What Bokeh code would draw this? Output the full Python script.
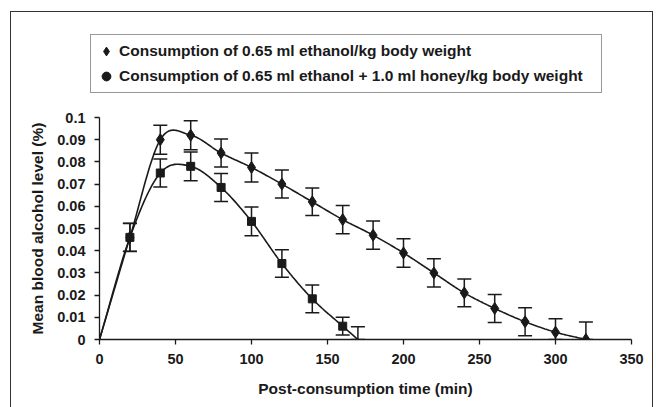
import numpy as np
from bokeh.plotting import figure
from bokeh.layouts import column
from bokeh.models import (ColumnDataSource, Whisker, TeeHead, FixedTicker,
                          Legend, LegendItem)
from bokeh.embed import file_html
from bokeh.resources import INLINE

# ---- data ----
time_ethanol = [0, 20, 40, 60, 80, 100, 120, 140, 160, 180, 200, 220, 240, 260, 280, 300, 320]
level_ethanol = [0.0, 0.046, 0.090, 0.092, 0.084, 0.0775, 0.070, 0.062, 0.054, 0.047,
                 0.039, 0.030, 0.021, 0.014, 0.008, 0.0033, 0.0]
err_ethanol = [0.0, 0.0064, 0.0065, 0.0065, 0.0063, 0.0065, 0.0063, 0.0062, 0.0064, 0.0064,
               0.0064, 0.0064, 0.0063, 0.0063, 0.0063, 0.006, 0.0079]

time_honey = [0, 20, 40, 60, 80, 100, 120, 140, 160, 170]
level_honey = [0.0, 0.046, 0.075, 0.078, 0.0685, 0.0532, 0.0342, 0.0183, 0.006, 0.0]
err_honey = [0.0, 0.0063, 0.0063, 0.0065, 0.0063, 0.0065, 0.0062, 0.0063, 0.004, 0.0057]

x_ticks = [0, 50, 100, 150, 200, 250, 300, 350]
y_ticks = [0, 0.01, 0.02, 0.03, 0.04, 0.05, 0.06, 0.07, 0.08, 0.09, 0.1]
y_tick_labels = ["0", "0.01", "0.02", "0.03", "0.04", "0.05", "0.06", "0.07", "0.08", "0.09", "0.1"]

label_ethanol = "Consumption of 0.65 ml ethanol/kg body weight"
label_honey = "Consumption of 0.65 ml ethanol + 1.0 ml honey/kg body weight"


def smooth(xs, ys, n=24):
    """Catmull-Rom style smoothing (like spreadsheet 'smoothed line')."""
    P = np.column_stack([xs, ys]).astype(float)
    m = len(P)
    T = np.zeros_like(P)
    for i in range(m):
        if i == 0:
            T[i] = (P[1] - P[0])
        elif i == m - 1:
            T[i] = (P[-1] - P[-2])
        else:
            T[i] = (P[i + 1] - P[i - 1]) / 2.0
    out = [P[0]]
    t = np.linspace(0, 1, n)[1:]
    for i in range(m - 1):
        p0 = P[i]; p3 = P[i + 1]
        c1 = p0 + T[i] / 3.0
        c2 = p3 - T[i + 1] / 3.0
        for tt in t:
            b = ((1 - tt) ** 3) * p0 + 3 * ((1 - tt) ** 2) * tt * c1 + 3 * (1 - tt) * tt ** 2 * c2 + tt ** 3 * p3
            out.append(b)
    out = np.array(out)
    return out[:, 0], out[:, 1]


FONT = "Liberation Sans"
INK = "#1a1a1a"
W = 641
BL, BR = 88, 21

# ---------- legend strip (top) ----------
top = figure(width=W, height=89, x_range=(400, 401), y_range=(1, 2),
             x_axis_type=None, y_axis_type=None,
             output_backend="svg", toolbar_location=None,
             min_border_left=0, min_border_right=0, min_border_top=0, min_border_bottom=0)
top.grid.visible = False
top.outline_line_color = None
top.border_fill_color = "white"
top.background_fill_color = "white"
leg_d = top.scatter(time_ethanol, level_ethanol, marker="diamond", size=11,
                    fill_color=INK, line_color=INK)
leg_c = top.scatter(time_honey, level_honey, marker="circle", size=9,
                    fill_color=INK, line_color=INK)
leg_d.visible = False
leg_c.visible = False
legend = Legend(items=[LegendItem(label=label_ethanol, renderers=[leg_d]),
                       LegendItem(label=label_honey, renderers=[leg_c])],
                location=(79, 8), orientation="vertical",
                label_text_font=FONT, label_text_font_style="bold", label_text_font_size="15.5px",
                label_text_color=INK, label_standoff=2, glyph_width=22, glyph_height=24,
                label_height=24, label_width=478, spacing=1, padding=4, margin=0,
                border_line_color="#333", border_line_width=1.2,
                background_fill_alpha=1.0, inactive_fill_alpha=0.0)
top.add_layout(legend, "center")

# ---------- chart ----------
p = figure(width=W, height=306, x_range=(0, 350), y_range=(0, 0.1),
           output_backend="svg", toolbar_location=None,
           min_border_left=BL, min_border_right=BR, min_border_top=16, min_border_bottom=68)
p.grid.visible = False
p.outline_line_color = None
p.background_fill_color = "white"
p.border_fill_color = "white"

ex, ey = smooth(time_ethanol, level_ethanol)
hx, hy = smooth(time_honey, level_honey)
p.line(ex, ey, line_color=INK, line_width=1.6)
p.line(hx, hy, line_color=INK, line_width=1.6)

for ts, lv, er in ((time_ethanol, level_ethanol, err_ethanol), (time_honey, level_honey, err_honey)):
    ts_a = np.array(ts[1:], dtype=float)
    lv_a = np.array(lv[1:]); er_a = np.array(er[1:])
    src = ColumnDataSource(dict(x=ts_a, upper=lv_a + er_a, lower=np.maximum(lv_a - er_a, 0)))
    w = Whisker(base="x", upper="upper", lower="lower", source=src, dimension="height",
                line_color=INK, line_width=1.5,
                upper_head=TeeHead(size=14, line_color=INK, line_width=1.5),
                lower_head=TeeHead(size=14, line_color=INK, line_width=1.5))
    p.add_layout(w)

p.scatter(time_ethanol[1:], level_ethanol[1:], marker="diamond", size=12,
          fill_color=INK, line_color=INK)
p.scatter(time_honey[1:-1], level_honey[1:-1], marker="square", size=8,
          fill_color=INK, line_color=INK)

for ax in (p.xaxis[0], p.yaxis[0]):
    ax.axis_line_color = INK
    ax.axis_line_width = 1.3
    ax.major_tick_line_color = INK
    ax.major_tick_line_width = 1.3
    ax.major_tick_in = 0
    ax.major_tick_out = 5
    ax.minor_tick_line_color = None
    ax.major_label_text_font = FONT
    ax.major_label_text_font_style = "bold"
    ax.major_label_text_font_size = "14.5px"
    ax.major_label_text_color = INK
    ax.axis_label_text_font = FONT
    ax.axis_label_text_font_style = "bold"
    ax.axis_label_text_font_size = "15.5px"
    ax.axis_label_text_color = INK

p.xaxis.ticker = FixedTicker(ticks=x_ticks)
p.yaxis.ticker = FixedTicker(ticks=y_ticks)
p.yaxis.major_label_overrides = {t: l for t, l in zip(y_ticks, y_tick_labels)}
p.xaxis.major_label_standoff = 9
p.yaxis.major_label_standoff = 9
p.xaxis.axis_label = "Post-consumption time (min)"
p.yaxis.axis_label = "Mean blood alcohol level (%)"
p.xaxis.axis_label_standoff = 13
p.yaxis.axis_label_standoff = 8

layout = column(column(top), p, spacing=0,
                styles={"margin-left": "10px", "margin-top": "11px",
                        "border-left": "1px solid #333", "border-top": "1px solid #333",
                        "border-right": "1px solid #333"})

open("out.html", "w").write(file_html(layout, INLINE))
